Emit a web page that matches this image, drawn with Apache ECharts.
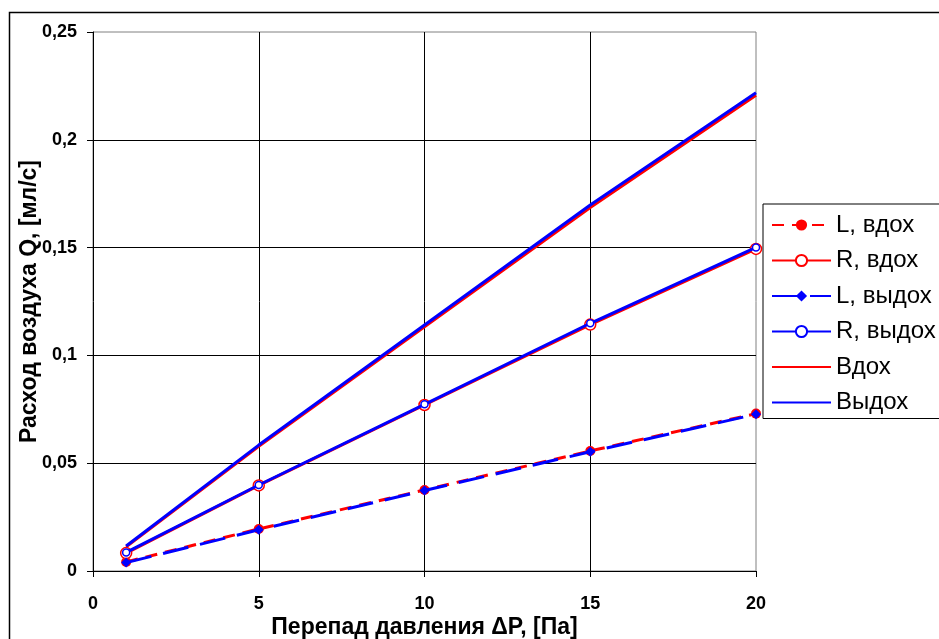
<!DOCTYPE html>
<html>
<head>
<meta charset="utf-8">
<script src="https://cdn.jsdelivr.net/npm/echarts@6/dist/echarts.min.js"></script>
<style>html,body{margin:0;padding:0;background:#fff}#c{width:939px;height:639px}</style>
</head>
<body>
<div id="c"></div>
<script>
const pressure = [1, 5, 10, 15, 20];
const lInhale = [0.0042, 0.0195, 0.0376, 0.0557, 0.0730];
const rInhale = [0.0083, 0.0397, 0.0770, 0.1143, 0.1494];
const lExhale = [0.0039, 0.0191, 0.0373, 0.0553, 0.0727];
const rExhale = [0.0086, 0.0399, 0.0773, 0.1149, 0.1501];
const inhale = [0.0112, 0.0578, 0.1133, 0.1686, 0.2207];
const exhale = [0.0116, 0.0584, 0.1141, 0.1698, 0.2218];
const seriesNames = ['L, вдох', 'R, вдох', 'L, выдох', 'R, выдох', 'Вдох', 'Выдох'];
const xTitle = 'Перепад давления ΔP, [Па]';
const yTitle = 'Расход воздуха Q, [мл/с]';

const RED = '#FF0000', BLUE = '#0000FF';
const pts = arr => pressure.map((x, i) => [x, arr[i]]);
const fmt = v => String(+v.toFixed(3)).replace('.', ',');

const chart = echarts.init(document.getElementById('c'));
chart.setOption({
  animation: false,
  backgroundColor: '#fff',
  textStyle: { fontFamily: 'Liberation Sans, Arial, sans-serif' },
  graphic: [{
    type: 'rect', silent: true, z: -10,
    shape: { x: 9.5, y: 12.5, width: 1000, height: 1000 },
    style: { fill: 'none', stroke: '#000', lineWidth: 1.5 }
  }],
  grid: { left: 93, top: 32, right: 183, bottom: 68, show: true, borderColor: '#808080', borderWidth: 1,
          containLabel: false, outerBoundsMode: 'none' },
  xAxis: {
    type: 'value', min: 0, max: 20, interval: 5,
    name: xTitle, nameLocation: 'middle', nameGap: 45, nameMoveOverlap: false,
    nameTextStyle: { fontSize: 23, fontWeight: 'bold', color: '#000' },
    axisLine: { show: true, lineStyle: { color: '#000', width: 1 } },
    axisTick: { show: true, length: 6, lineStyle: { color: '#000' } },
    axisLabel: { fontSize: 18, fontWeight: 'bold', color: '#000', margin: 24, formatter: fmt },
    splitLine: { show: true, showMinLine: false, showMaxLine: false, lineStyle: { color: '#000', width: 1 } }
  },
  yAxis: {
    type: 'value', min: 0, max: 0.25, interval: 0.05,
    name: yTitle, nameLocation: 'middle', nameGap: 52, nameMoveOverlap: false,
    nameTextStyle: { fontSize: 23, fontWeight: 'bold', color: '#000' },
    axisLine: { show: true, lineStyle: { color: '#000', width: 1 } },
    axisTick: { show: true, length: 6, lineStyle: { color: '#000' } },
    axisLabel: { fontSize: 18, fontWeight: 'bold', color: '#000', margin: 16, formatter: fmt },
    splitLine: { show: true, showMinLine: false, showMaxLine: false, lineStyle: { color: '#000', width: 1 } }
  },
  legend: {
    orient: 'vertical', left: 763, top: 204,
    padding: [9, 40, 4, 8],
    itemWidth: 59, itemHeight: 14, itemGap: 11.5,
    borderColor: '#000', borderWidth: 1, backgroundColor: '#fff',
    textStyle: { fontSize: 24, lineHeight: 22, color: '#000' },
    data: [
      seriesNames[0], seriesNames[1], seriesNames[2], seriesNames[3],
      { name: seriesNames[4], itemStyle: { opacity: 0 } },
      { name: seriesNames[5], itemStyle: { opacity: 0 } }
    ]
  },
  series: [
    { name: seriesNames[0], type: 'line', data: pts(lInhale), z: 2,
      symbol: 'circle', symbolSize: 10,
      lineStyle: { color: RED, width: 3, type: [12, 8] },
      itemStyle: { color: RED } },
    { name: seriesNames[1], type: 'line', data: pts(rInhale), z: 2,
      symbol: 'circle', symbolSize: 11,
      lineStyle: { color: RED, width: 3 },
      itemStyle: { color: '#fff', borderColor: RED, borderWidth: 1.5 } },
    { name: seriesNames[2], type: 'line', data: pts(lExhale), z: 4,
      symbol: 'diamond', symbolSize: 10,
      lineStyle: { color: BLUE, width: 3, type: [26, 12] },
      itemStyle: { color: BLUE } },
    { name: seriesNames[3], type: 'line', data: pts(rExhale), z: 4,
      symbol: 'circle', symbolSize: 7,
      lineStyle: { color: BLUE, width: 3 },
      itemStyle: { color: '#fff', borderColor: BLUE, borderWidth: 1.5 } },
    { name: seriesNames[4], type: 'line', data: pts(inhale), z: 2,
      symbol: 'none', showSymbol: false,
      lineStyle: { color: RED, width: 3 }, itemStyle: { color: RED } },
    { name: seriesNames[5], type: 'line', data: pts(exhale), z: 4,
      symbol: 'none', showSymbol: false,
      lineStyle: { color: BLUE, width: 3 }, itemStyle: { color: BLUE } }
  ]
});
</script>
</body>
</html>
